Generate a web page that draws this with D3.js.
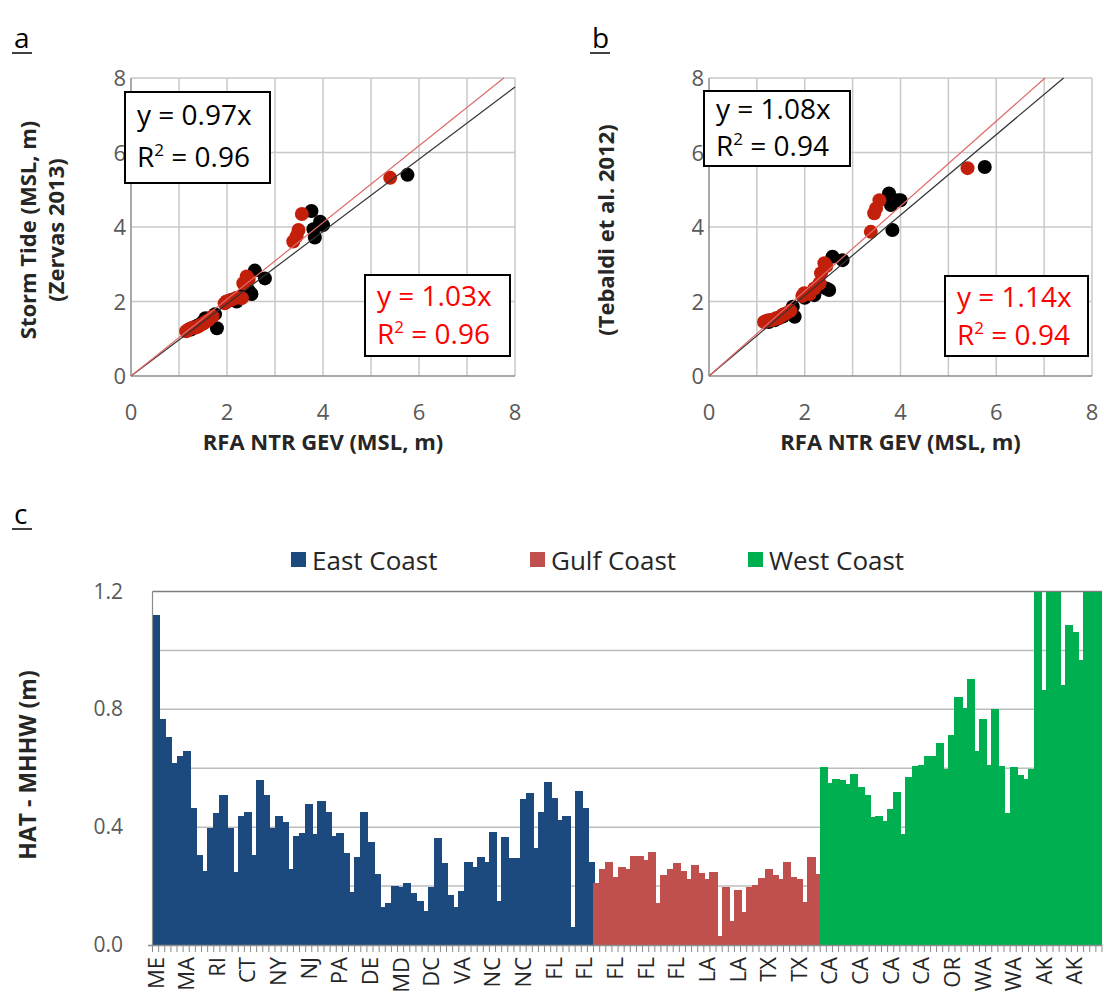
<!DOCTYPE html>
<html><head><meta charset="utf-8">
<script src="https://cdn.jsdelivr.net/npm/d3@7"></script>
<style>body{margin:0;background:#fff;} text{font-family:"Open Sans",sans-serif;}</style>
</head><body><svg id="c" width="1104" height="1008"></svg>
<script>
// ---------- Data: scatter panels ----------
const blackX  = [1.25,1.30,1.38,1.45,1.50,1.55,1.65,1.75,1.79,2.00,2.10,2.20,2.35,2.45,2.51,2.58,2.79,3.76,3.80,3.83,3.94,4.00,5.76];
const blackYa = [1.25,1.30,1.35,1.40,1.45,1.55,1.55,1.66,1.28,2.00,2.05,2.00,2.20,2.30,2.20,2.83,2.62,4.43,3.94,3.72,4.14,4.05,5.40];
const blackYb = [1.45,1.50,1.50,1.55,1.60,1.60,1.70,1.86,1.59,2.10,2.20,2.17,2.40,2.35,2.31,3.20,3.11,4.90,4.59,3.92,4.72,4.72,5.61];
const redX  = [1.15,1.20,1.25,1.30,1.35,1.40,1.44,1.50,1.55,1.61,1.70,1.95,1.99,2.10,2.20,2.31,2.34,2.41,2.45,3.38,3.45,3.49,3.56,5.40];
const redYa = [1.20,1.25,1.28,1.30,1.30,1.33,1.37,1.40,1.45,1.50,1.60,1.95,2.00,2.05,2.10,2.09,2.49,2.67,2.60,3.61,3.75,3.92,4.35,5.32];
const redYb = [1.45,1.48,1.50,1.50,1.52,1.55,1.55,1.60,1.65,1.68,1.75,2.15,2.22,2.20,2.35,2.49,2.76,3.03,2.95,3.87,4.37,4.50,4.72,5.58];
const slopes = {a:{black:0.97, red:1.03, r2:"0.96"}, b:{black:1.08, red:1.14, r2:"0.94"}};
const scatterTicks = [0,2,4,6,8];

// ---------- Data: bar panel ----------
const eastValues = [1.12,0.767,0.707,0.619,0.642,0.657,0.464,0.306,0.251,0.396,0.447,0.51,0.396,0.247,0.439,0.453,0.306,0.56,0.51,0.396,
  0.439,0.419,0.257,0.37,0.381,0.479,0.377,0.49,0.453,0.37,0.381,0.311,0.181,0.3,0.453,0.351,0.241,0.13,0.141,0.2,
  0.197,0.211,0.178,0.15,0.115,0.197,0.364,0.28,0.17,0.13,0.184,0.283,0.264,0.298,0.283,0.383,0.15,0.368,0.294,0.294,
  0.495,0.517,0.328,0.453,0.555,0.498,0.425,0.438,0.06,0.524,0.464,0.283];
const gulfValues = [0.212,0.257,0.283,0.232,0.264,0.257,0.302,0.302,0.289,0.317,0.144,0.238,0.257,0.277,0.251,0.223,0.272,0.244,0.223,0.247,
  0.031,0.198,0.083,0.187,0.111,0.198,0.204,0.229,0.257,0.238,0.223,0.283,0.232,0.223,0.147,0.3,0.241];
const westValues = [0.604,0.551,0.564,0.56,0.547,0.58,0.538,0.51,0.436,0.439,0.422,0.463,0.519,0.377,0.57,0.609,0.611,0.642,0.642,0.685,
  0.597,0.712,0.843,0.804,0.902,0.657,0.767,0.611,0.8,0.606,0.447,0.604,0.577,0.563,0.597,1.45,0.866,1.6,1.5,0.883,
  1.087,1.064,0.968,1.4,1.7,1.55];
const tickLabels = ["ME","MA","RI","CT","NY","NJ","PA","DE","MD","DC","VA","NC","NC","FL","FL","FL","FL","FL","LA","LA","TX","TX",
  "CA","CA","CA","CA","OR","WA","WA","AK","AK"];
const coasts = ["East Coast","Gulf Coast","West Coast"];
const coastColors = ["#1c4a7e","#c0504d","#00b050"];
const barTicks = [0,0.4,0.8,1.2];
const barGrid = [0.2,0.4,0.6,0.8,1.0];

const svg = d3.select("#c");
const gridCol = "#c8c8c8", tickCol = "#595959";

// ---------- Scatter panels ----------
function scatter(cfg){
  const x = d3.scaleLinear().domain([0,8]).range([cfg.x0,cfg.x1]);
  const y = d3.scaleLinear().domain([0,8]).range([376,78]);
  const g = svg.append("g");
  g.selectAll(".vg").data(d3.range(1,9)).join("line")
    .attr("x1",d=>x(d)).attr("x2",d=>x(d)).attr("y1",y(0)).attr("y2",y(8))
    .attr("stroke",gridCol).attr("stroke-width",1.5);
  g.selectAll(".hg").data([2,4,6,8]).join("line")
    .attr("x1",x(0)).attr("x2",x(8)).attr("y1",d=>y(d)).attr("y2",d=>y(d))
    .attr("stroke",gridCol).attr("stroke-width",1.5);
  g.append("line").attr("x1",x(0)).attr("x2",x(8)).attr("y1",y(0)).attr("y2",y(0)).attr("stroke","#8c8c8c").attr("stroke-width",1.5);
  g.append("line").attr("x1",x(0)).attr("x2",x(0)).attr("y1",y(0)).attr("y2",y(8)).attr("stroke","#8c8c8c").attr("stroke-width",1.5);
  g.selectAll(".xt").data(scatterTicks).join("text")
    .attr("x",d=>x(d)).attr("y",y(0)+44).attr("text-anchor","middle")
    .attr("font-size",22).attr("fill",tickCol).text(d=>d);
  g.selectAll(".yt").data(scatterTicks).join("text")
    .attr("x",x(0)-5).attr("y",d=>y(d)+8).attr("text-anchor","end")
    .attr("font-size",22).attr("fill",tickCol).text(d=>d);
  // points
  g.selectAll(".pb").data(blackX.map((v,i)=>[v,cfg.by[i]])).join("circle")
    .attr("cx",d=>x(d[0])).attr("cy",d=>y(d[1])).attr("r",7).attr("fill","#000");
  g.selectAll(".pr").data(redX.map((v,i)=>[v,cfg.ry[i]])).join("circle")
    .attr("cx",d=>x(d[0])).attr("cy",d=>y(d[1])).attr("r",7).attr("fill","#c3200c");
  // trend lines (clipped to plot area)
  const lineEnd = s => Math.min(8, 8/s);
  g.append("line").attr("x1",x(0)).attr("y1",y(0)).attr("x2",x(lineEnd(cfg.sb))).attr("y2",y(cfg.sb*lineEnd(cfg.sb)))
    .attr("stroke","#333").attr("stroke-width",1.2);
  g.append("line").attr("x1",x(0)).attr("y1",y(0)).attr("x2",x(lineEnd(cfg.sr))).attr("y2",y(cfg.sr*lineEnd(cfg.sr)))
    .attr("stroke","#e06a6a").attr("stroke-width",1.2);
  // equation boxes
  function box(b,col,l1,l2){
    g.append("rect").attr("x",b.x).attr("y",b.y).attr("width",b.w).attr("height",b.h)
      .attr("fill","#fff").attr("stroke","#000").attr("stroke-width",2);
    g.append("text").attr("x",b.x+12).attr("y",b.y+b.o1).attr("font-size",28).attr("fill",col).text(l1);
    const t = g.append("text").attr("x",b.x+12).attr("y",b.y+b.o2).attr("font-size",28).attr("fill",col);
    t.append("tspan").text("R");
    t.append("tspan").attr("font-size",17).attr("dy",-11).text("2");
    t.append("tspan").attr("dy",11).text(" = "+l2);
  }
  box(cfg.bb,"#000","y = "+cfg.sb.toFixed(2)+"x",cfg.r2);
  box(cfg.rb,"#ff0000","y = "+cfg.sr.toFixed(2)+"x",cfg.r2);
  // x title
  g.append("text").attr("x",(cfg.x0+cfg.x1)/2).attr("y",450).attr("text-anchor","middle")
    .attr("font-size",22).attr("font-weight","bold").attr("fill","#262626").text("RFA NTR GEV (MSL, m)");
  // panel letter
  g.append("text").attr("x",cfg.lx).attr("y",48).attr("font-size",28).attr("fill","#000").text(cfg.letter);
  g.append("line").attr("x1",cfg.lx-2).attr("x2",cfg.lx+18).attr("y1",53).attr("y2",53).attr("stroke","#000").attr("stroke-width",1.5);
  cfg.ytitles.forEach(tt=>{
    g.append("text").attr("transform",`translate(${tt[0]},230) rotate(-90)`).attr("text-anchor","middle")
      .attr("font-size",22).attr("font-weight","bold").attr("fill","#262626").text(tt[1]);
  });
}
scatter({x0:131,x1:515,by:blackYa,ry:redYa,sb:slopes.a.black,sr:slopes.a.red,r2:slopes.a.r2,
  bb:{x:125,y:92,w:145,h:91,o1:33,o2:75}, rb:{x:365,y:275,w:145,h:81,o1:31,o2:69},
  letter:"a",lx:14, ytitles:[[36,"Storm Tide (MSL, m)"],[64,"(Zervas 2013)"]]});
scatter({x0:709,x1:1092,by:blackYb,ry:redYb,sb:slopes.b.black,sr:slopes.b.red,r2:slopes.b.r2,
  bb:{x:704,y:91,w:146,h:75,o1:28,o2:65}, rb:{x:945,y:276,w:143,h:80,o1:31,o2:69},
  letter:"b",lx:592, ytitles:[[614,"(Tebaldi et al. 2012)"]]});

// ---------- Bar panel ----------
const allVals = [...eastValues.map(v=>({v,c:0})),...gulfValues.map(v=>({v,c:1})),...westValues.map(v=>({v,c:2}))];
const xC = d3.scaleBand().domain(d3.range(allVals.length)).range([152.5,1102]).padding(0);
const yC = d3.scaleLinear().domain([0,1.2]).range([945,591.5]).clamp(true);
const gc = svg.append("g");
gc.selectAll(".gl").data(barGrid).join("line")
  .attr("x1",152.5).attr("x2",1102).attr("y1",d=>yC(d)).attr("y2",d=>yC(d))
  .attr("stroke","#bdbdbd").attr("stroke-width",1.5);
gc.append("line").attr("x1",152.5).attr("x2",1102).attr("y1",yC(1.2)).attr("y2",yC(1.2)).attr("stroke","#7f7f7f").attr("stroke-width",1.5);
gc.selectAll(".bar").data(allVals).join("rect")
  .attr("x",(d,i)=>Math.floor(xC(i)))
  .attr("width",(d,i)=>Math.min(1102,Math.ceil(xC(i)+xC.bandwidth())+1)-Math.floor(xC(i)))
  .attr("y",d=>yC(d.v)).attr("height",d=>yC(0)-yC(d.v))
  .attr("shape-rendering","crispEdges")
  .attr("fill",d=>coastColors[d.c]);
gc.append("line").attr("x1",152.5).attr("x2",152.5).attr("y1",yC(0)).attr("y2",yC(1.2)).attr("stroke","#8c8c8c").attr("stroke-width",1.2);
gc.append("line").attr("x1",148).attr("x2",1102).attr("y1",yC(0)+0.5).attr("y2",yC(0)+0.5).attr("stroke","#8c8c8c").attr("stroke-width",1.5);
gc.selectAll(".tk").data(d3.range(allVals.length+1)).join("line")
  .attr("x1",i=>152.5+i*xC.step()).attr("x2",i=>152.5+i*xC.step()).attr("y1",yC(0)).attr("y2",yC(0)+7)
  .attr("stroke","#8c8c8c").attr("stroke-width",1);
gc.selectAll(".xl").data(tickLabels).join("text")
  .attr("transform",(d,i)=>`translate(${xC(i*5)+xC.bandwidth()/2+8},${yC(0)+12}) rotate(-90)`)
  .attr("text-anchor","end").attr("font-size",22).attr("fill","#262626").text(d=>d);
gc.selectAll(".yl").data(barTicks).join("text")
  .attr("x",123).attr("y",d=>yC(d)+7).attr("text-anchor","end")
  .attr("font-size",21).attr("fill",tickCol).text(d=>d.toFixed(1));
gc.append("text").attr("transform","translate(36,765) rotate(-90)").attr("text-anchor","middle")
  .attr("font-size",23).attr("font-weight","bold").attr("fill","#262626").text("HAT - MHHW (m)");
gc.append("text").attr("x",14).attr("y",524).attr("font-size",28).attr("fill","#000").text("c");
gc.append("line").attr("x1",12).attr("x2",32).attr("y1",529).attr("y2",529).attr("stroke","#000").attr("stroke-width",1.5);
const legX = [291,530,748];
coasts.forEach((c,i)=>{
  gc.append("rect").attr("x",legX[i]).attr("y",552).attr("width",15).attr("height",15).attr("fill",coastColors[i]);
  gc.append("text").attr("x",legX[i]+21).attr("y",570).attr("font-size",26).attr("fill","#262626").text(c);
});
</script></body></html>
